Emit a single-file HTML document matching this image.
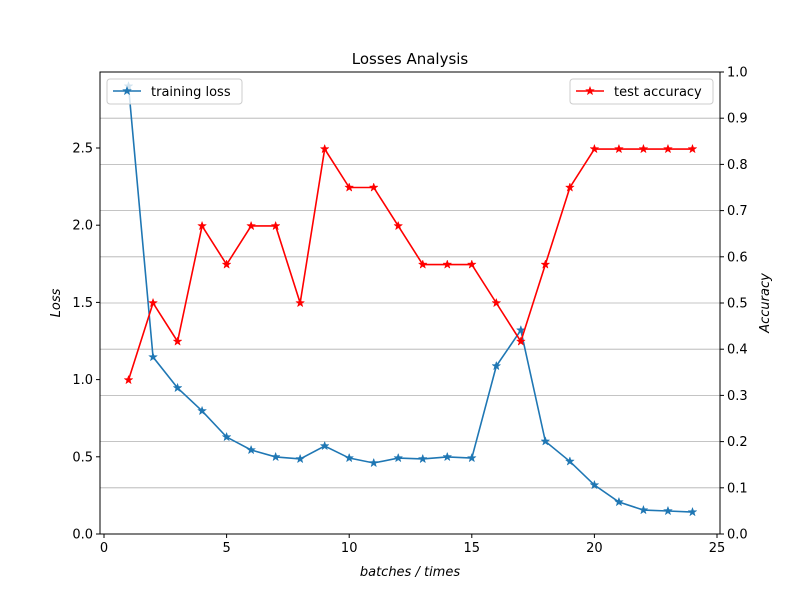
<!DOCTYPE html>
<html><head><meta charset="utf-8"><style>body{margin:0;background:#fff}svg{display:block;font-family:"DejaVu Sans","Liberation Sans",sans-serif}</style></head>
<body>
<svg id="chart" width="800" height="600"></svg>
<script>
const batches=[1,2,3,4,5,6,7,8,9,10,11,12,13,14,15,16,17,18,19,20,21,22,23,24];
const trainingLoss=[2.9,1.146,0.946,0.797,0.628,0.544,0.499,0.486,0.57,0.492,0.46,0.492,0.486,0.499,0.492,1.088,1.32,0.60,0.47,0.317,0.207,0.155,0.149,0.142];
const testAccuracy=[0.3333,0.5,0.4167,0.6667,0.5833,0.6667,0.6667,0.5,0.8333,0.75,0.75,0.6667,0.5833,0.5833,0.5833,0.5,0.4167,0.5833,0.75,0.8333,0.8333,0.8333,0.8333,0.8333];
const xTicks=[0,5,10,15,20,25];
const lossTicks=[0,0.5,1.0,1.5,2.0,2.5];
const accTicks=[0,0.1,0.2,0.3,0.4,0.5,0.6,0.7,0.8,0.9,1.0];
const L=100,R=720,T=72,B=534;
const sx=v=>104+v*(717-104)/25;
const syL=v=>B-v*(B-148)/2.5;
const syR=v=>B-v*(B-T);
const svg=document.getElementById('chart');
const NS='http://www.w3.org/2000/svg';
function mk(tag,attrs,parent){const e=document.createElementNS(NS,tag);for(const k in attrs)e.setAttribute(k,attrs[k]);(parent||svg).appendChild(e);return e;}
function txt(s,attrs){const e=mk('text',attrs);e.textContent=s;return e;}
// grid
accTicks.forEach(v=>{const g=mk('line',{x1:L,x2:R,y1:syR(v),y2:syR(v),stroke:'#b0b0b0','stroke-width':0.8});

});
// axes frame
const fr=mk('rect',{x:L,y:T,width:R-L,height:B-T,fill:'none',stroke:'#000','stroke-width':1});


xTicks.forEach(v=>{mk('line',{x1:sx(v),x2:sx(v),y1:B,y2:B+4,stroke:'#000'});
const t=txt(v,{x:sx(v),y:B+18,'font-size':13,'text-anchor':'middle'});

});
lossTicks.forEach(v=>{mk('line',{x1:L-4,x2:L,y1:syL(v),y2:syL(v),stroke:'#000'});
const t=txt(v.toFixed(1),{x:L-7,y:syL(v)+4.5,'font-size':13,'text-anchor':'end'});

});
accTicks.forEach(v=>{mk('line',{x1:R,x2:R+4,y1:syR(v),y2:syR(v),stroke:'#000'});
const t=txt(v.toFixed(1),{x:R+7,y:syR(v)+4.5,'font-size':13});

});
const ti=txt('Losses Analysis',{x:410,y:64,'font-size':15,'text-anchor':'middle'});


const xl=txt('batches / times',{x:410,y:576,'font-size':13,'text-anchor':'middle','font-style':'italic'});


const yl=txt('Loss',{x:0,y:0,'font-size':13,'text-anchor':'middle','font-style':'italic',transform:'translate(60,303) rotate(-90)'});


const yr=txt('Accuracy',{x:0,y:0,'font-size':13,'text-anchor':'middle','font-style':'italic',transform:'translate(769,303) rotate(-90)'});


function star(x,y,r,color,parent){let p='';for(let i=0;i<10;i++){const a=-Math.PI/2+i*Math.PI/5;const rr=i%2?r*0.4:r;p+=(i?'L':'M')+(x+rr*Math.cos(a)).toFixed(2)+','+(y+rr*Math.sin(a)).toFixed(2);}return mk('path',{d:p+'Z',fill:color,stroke:color,'stroke-width':0.5},parent);}
function series(vals,sy,color,name){
const g=mk('g',{});


mk('polyline',{points:vals.map((v,i)=>sx(batches[i])+','+sy(v)).join(' '),fill:'none',stroke:color,'stroke-width':1.6},g);
vals.forEach((v,i)=>{const s=star(sx(batches[i]),sy(v),4.5,color,g);

});}
const clip=mk('clipPath',{id:'c'});mk('rect',{x:L,y:T,width:R-L,height:B-T},clip);
series(trainingLoss,syL,'#1f77b4','training-loss-series');
series(testAccuracy,syR,'#ff0000','test-accuracy-series');
function legend(x,w,color,label,name){const g=mk('g',{});


mk('rect',{x:x,y:79,width:w,height:25,fill:'#fff','fill-opacity':0.8,stroke:'#ccc',rx:3},g);
mk('line',{x1:x+6,x2:x+34,y1:91,y2:91,stroke:color,'stroke-width':1.6},g);
star(x+20,91,4.5,color,g);
const t=mk('text',{x:x+44,y:96,'font-size':13},g);t.textContent=label;}
legend(107,135,'#1f77b4','training loss','legend-training-loss');
legend(570,143,'#ff0000','test accuracy','legend-test-accuracy');
</script>
</body></html>
